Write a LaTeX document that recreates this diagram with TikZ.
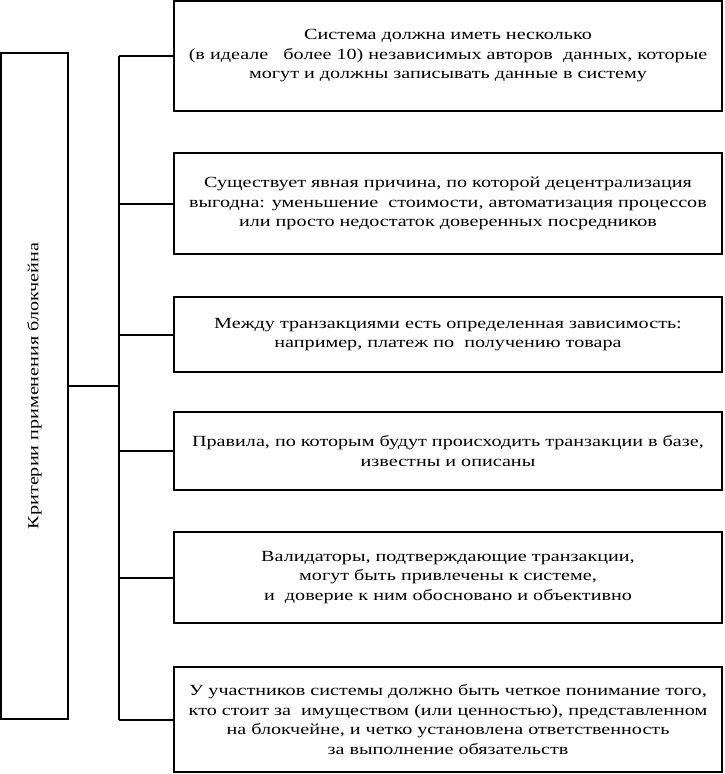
\documentclass[tikz,border=0pt]{standalone}
\usepackage{fontspec}
\setmainfont{Liberation Serif}[FakeStretch=1.3]
\begin{document}
\begin{tikzpicture}[x=1pt,y=-1pt,
  crit/.style={draw,line width=2pt,minimum width=548pt,align=center,inner sep=0pt,
    font=\fontsize{15.5}{19.5}\selectfont},
  conn/.style={line width=2pt}]
\useasboundingbox (0,0) rectangle (724,774);
\node[draw,line width=2pt,minimum width=67pt,minimum height=666pt,inner sep=0pt] (L) at (34.5,386) {};
\node[rotate=90,font=\fontsize{15.5}{19.5}\selectfont] (Lt) at (L.center) {Критерии применения блокчейна};
\node[crit,minimum height=110pt] (b1) at (448,56) {Система должна иметь несколько\\(в идеале \ \ более 10) независимых авторов \ данных, которые\\могут и должны записывать данные в систему};
\node[crit,minimum height=101pt] (b2) at (448,203.5) {Существует явная причина, по которой децентрализация\\выгодна: уменьшение \ стоимости, автоматизация процессов\\или просто недостаток доверенных посредников};
\node[crit,minimum height=75pt] (b3) at (448,334.5) {Между транзакциями есть определенная зависимость:\\например, платеж по \ получению товара};
\node[crit,minimum height=78pt] (b4) at (448,451) {Правила, по которым будут происходить транзакции в базе,\\известны и описаны};
\node[crit,minimum height=91pt] (b5) at (448,577.5) {Валидаторы, подтверждающие транзакции,\\могут быть привлечены к системе,\\и \ доверие к ним обосновано и объективно};
\node[crit,minimum height=105pt] (b6) at (448,719.5) {У участников системы должно быть четкое понимание того,\\кто стоит за \ имуществом (или ценностью), представленном\\на блокчейне, и четко установлена ответственность\\за выполнение обязательств};
\coordinate (t) at (119,0);
\draw[conn] (b1.west -| t) -- (b6.west -| t);
\foreach \b in {b1,b2,b3,b4,b5,b6} \draw[conn] (\b.west) -- (\b.west -| t);
\draw[conn] (L.east) -- (L.east -| t);
\end{tikzpicture}
\end{document}
